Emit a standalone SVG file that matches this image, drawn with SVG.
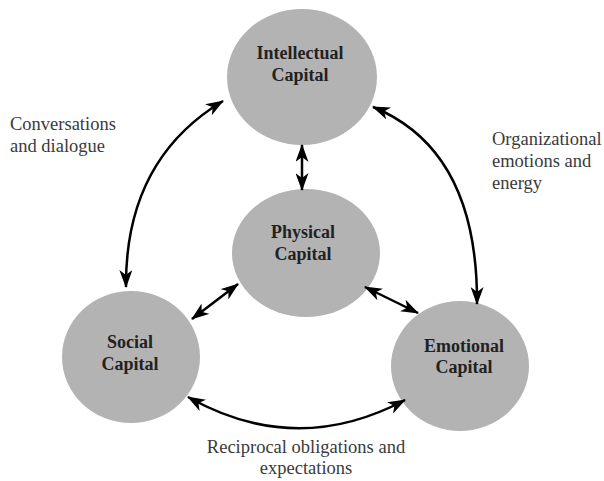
<svg xmlns="http://www.w3.org/2000/svg" width="604" height="481" viewBox="0 0 604 481">
  <style>
    .node { fill: #b3b3b3; }
    .title { font-weight: bold; font-size: 18px; fill: #222; text-anchor: middle; }
    .lbl { font-size: 18.5px; fill: #3a3a3a; }
    .conn { fill: none; stroke: #000; stroke-width: 2.5; marker-start: url(#ah); marker-end: url(#ah); }
  </style>
  <defs>
    <marker id="ah" viewBox="0 0 18 13" refX="17" refY="6.5" markerWidth="18" markerHeight="13" markerUnits="userSpaceOnUse" orient="auto-start-reverse">
      <path d="M0,0 L18,6.5 L0,13 L5,6.5 Z" fill="#000"/>
    </marker>
  </defs>
  <rect width="604" height="481" fill="#fff"/>

  <g font-family="Times New Roman, Liberation Serif, DejaVu Serif, serif">
  <g id="intellectual">
    <ellipse class="node" cx="302" cy="77" rx="75" ry="68"/>
    <text class="title" x="300" y="59">Intellectual</text>
    <text class="title" x="300" y="81">Capital</text>
  </g>
  <g id="physical">
    <ellipse class="node" cx="306" cy="253" rx="74" ry="64"/>
    <text class="title" x="303" y="238">Physical</text>
    <text class="title" x="303" y="260">Capital</text>
  </g>
  <g id="social">
    <ellipse class="node" cx="131" cy="357" rx="69" ry="66"/>
    <text class="title" x="130" y="348">Social</text>
    <text class="title" x="130" y="370">Capital</text>
  </g>
  <g id="emotional">
    <ellipse class="node" cx="460" cy="366" rx="69" ry="65"/>
    <text class="title" x="464" y="352">Emotional</text>
    <text class="title" x="464" y="373">Capital</text>
  </g>

  <g id="connectors">
    <path class="conn" d="M302,145 L302,190"/>
    <path class="conn" d="M192,319 L238,284"/>
    <path class="conn" d="M365,287 L418,313"/>
    <path class="conn" d="M126,287 Q125,160 223,101"/>
    <path class="conn" d="M373,107 Q478,150 477,304"/>
    <path class="conn" d="M188,397 Q296,458 405,400"/>
  </g>

  <g id="labels">
    <text class="lbl" x="10" y="130">Conversations</text>
    <text class="lbl" x="10" y="152">and dialogue</text>
    <text class="lbl" x="492" y="145">Organizational</text>
    <text class="lbl" x="492" y="167">emotions and</text>
    <text class="lbl" x="492" y="189">energy</text>
    <text class="lbl" x="306" y="453" text-anchor="middle">Reciprocal obligations and</text>
    <text class="lbl" x="306" y="474" text-anchor="middle">expectations</text>
  </g>
  </g>
</svg>
